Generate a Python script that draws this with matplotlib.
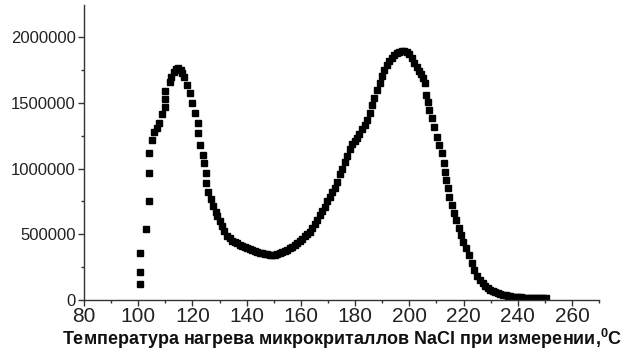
import numpy as np
import matplotlib
matplotlib.use("Agg")
import matplotlib.pyplot as plt
from matplotlib.ticker import MultipleLocator

plt.rcParams['font.family'] = ['Liberation Sans', 'DejaVu Sans']

# температура, °C
temperatura = [
    100.7, 100.7, 100.7, 102.9, 103.9, 103.9, 103.9, 105.0, 105.9, 106.8,
    107.8, 108.7, 109.8, 109.8, 109.8, 111.8, 112.2, 113.0, 114.0, 114.8,
    115.6, 116.3, 117.0, 118.0, 118.9, 120.0, 121.0, 121.9, 121.9, 122.9,
    123.9, 124.2, 124.8, 125.1, 125.8, 126.7, 127.6, 128.5, 129.1, 130.0,
    130.9, 131.8, 132.8, 133.8, 134.7, 135.6, 136.5, 137.5, 138.4, 139.3,
    140.2, 141.1, 142.0, 143.0, 143.9, 144.8, 145.7, 146.6, 147.5, 148.5,
    149.4, 150.3, 151.3, 152.2, 153.1, 154.0, 155.0, 155.9, 156.8, 157.7,
    158.7, 159.6, 160.5, 161.4, 162.3, 163.3, 164.2, 165.1, 166.0, 166.9,
    167.8, 168.8, 169.7, 170.6, 171.5, 172.4, 173.4, 174.3, 175.2, 176.1,
    177.0, 178.0, 178.9, 179.8, 180.7, 181.6, 182.5, 183.5, 184.4, 185.3,
    186.2, 187.1, 188.1, 189.0, 189.9, 190.8, 191.7, 192.6, 193.6, 194.5,
    195.4, 196.3, 197.2, 198.1, 199.1, 200.0, 200.9, 201.8, 202.7, 203.6,
    204.3, 205.0, 205.6, 206.2, 206.8, 207.4, 208.4, 209.1, 210.1, 211.0,
    212.0, 212.6, 213.0, 213.6, 214.2, 214.8, 215.6, 216.3, 217.2, 218.2,
    219.1, 219.9, 220.9, 221.9, 223.0, 224.0, 225.0, 226.0, 227.0, 228.0,
    228.9, 229.9, 230.8, 231.7, 232.7, 233.6, 234.5, 235.5, 236.4, 237.3,
    238.2, 239.2, 240.1, 241.0, 242.0, 242.9, 243.8, 244.7, 245.7, 246.6,
    247.5, 248.4, 249.4, 250.3,
]

# интенсивность (в тысячах)
intensivnost_k = [
    120, 215, 355, 537, 750, 963, 1118, 1220, 1275, 1305,
    1346, 1418, 1470, 1530, 1592, 1660, 1700, 1736, 1755, 1762,
    1750, 1730, 1698, 1635, 1572, 1496, 1424, 1348, 1268, 1179,
    1103, 1040, 963, 887, 824, 766, 712, 670, 640, 600,
    560, 523, 490, 470, 452, 440, 430, 420, 410, 402,
    395, 388, 380, 372, 365, 360, 355, 350, 346, 343,
    342, 345, 350, 355, 362, 370, 380, 392, 405, 418,
    430, 445, 465, 485, 505, 520, 545, 575, 610, 650,
    680, 710, 750, 785, 820, 850, 900, 955, 1000, 1050,
    1095, 1150, 1185, 1210, 1235, 1265, 1300, 1330, 1370, 1420,
    1480, 1540, 1600, 1650, 1705, 1750, 1790, 1820, 1845, 1865,
    1880, 1890, 1895, 1893, 1885, 1870, 1845, 1800, 1770, 1745,
    1720, 1690, 1650, 1560, 1505, 1445, 1382, 1318, 1242, 1180,
    1115, 1040, 976, 913, 850, 786, 722, 659, 608, 545,
    494, 443, 393, 342, 279, 228, 185, 155, 127, 105,
    89, 78, 68, 60, 52, 44, 38, 34, 30, 27,
    25, 23, 21, 20, 18, 17, 16, 15, 14, 13,
    13, 12, 12, 11,
]

x = np.array(temperatura)
y = np.array(intensivnost_k) * 1000

fig = plt.figure(figsize=(6.32, 3.57), dpi=100)
ax = fig.add_axes([0.133, 0.16, 0.815, 0.826])

ax.plot(x, y, linestyle='none', marker='s', markersize=4.5, color='black')

ax.set_xlim(80, 270)
ax.set_ylim(0, 2245000)

ax.xaxis.set_major_locator(MultipleLocator(20))
ax.xaxis.set_minor_locator(MultipleLocator(10))
ax.yaxis.set_major_locator(MultipleLocator(500000))
ax.yaxis.set_minor_locator(MultipleLocator(250000))
ax.ticklabel_format(axis='y', style='plain')

for s in ['top', 'right']:
    ax.spines[s].set_visible(False)
for s in ['left', 'bottom']:
    ax.spines[s].set_color('#333333')
    ax.spines[s].set_linewidth(1.0)

ax.tick_params(which='major', direction='out', length=4, width=1, color='#333333')
ax.tick_params(which='minor', direction='out', length=2.5, width=1, color='#333333')
ax.tick_params(axis='x', labelsize=15, pad=1, labelcolor='#222222')
ax.tick_params(axis='y', labelsize=12, pad=2, labelcolor='#222222')

ax.set_xlabel('Температура нагрева микрокриталлов NaCl при измерении,$^{\\mathregular{0}}$C',
              fontsize=13, fontweight='bold', labelpad=1, color='#111111')

fig.savefig('out.png', dpi=100)
